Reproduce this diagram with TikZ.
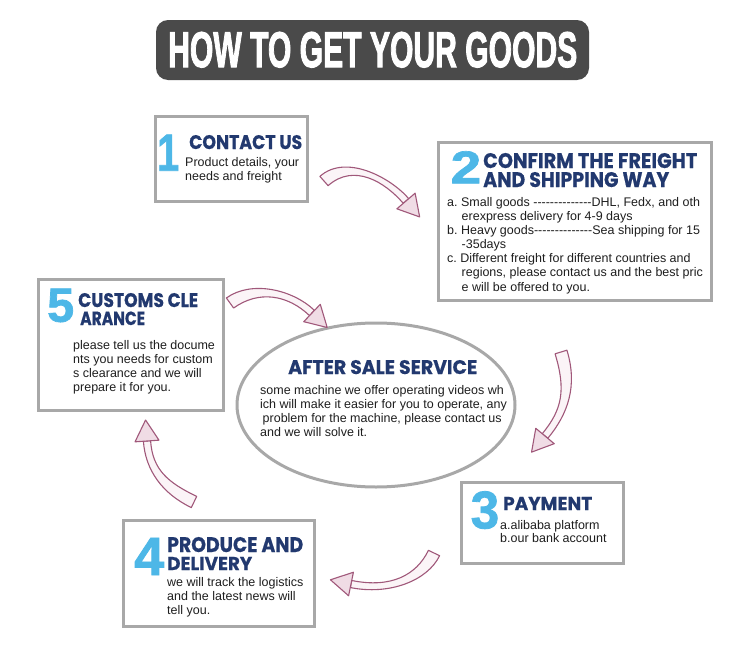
\documentclass[tikz,border=0pt]{standalone}
\usepackage{fontspec}
\usepackage{graphicx}
\usetikzlibrary{shapes.geometric,calc}
\newfontfamily\bodyfont{Liberation Sans}
\newfontfamily\titlefont{Liberation Sans}[BoldFeatures={FakeBold=2.5}]
\newfontfamily\numfont{Liberation Sans}[BoldFeatures={FakeBold=1.5}]
\newfontfamily\headfont{Poppins}[BoldFeatures={FakeBold=0.6}]
\definecolor{boxgray}{HTML}{A8A8A8}
\definecolor{bannergray}{HTML}{4A4A4A}
\definecolor{numblue}{HTML}{4DB7E7}
\definecolor{headnavy}{HTML}{22396F}
\definecolor{bodyc}{HTML}{1E1E1E}
\definecolor{arrowc}{HTML}{A0587A}
\definecolor{arrowfill}{HTML}{FBF4F7}
\definecolor{headfill}{HTML}{F0DCE5}
\newcommand{\hh}{-\kern0pt}
\newcommand{\dashrun}{\hh\hh\hh\hh\hh\hh\hh\hh\hh\hh\hh\hh\hh\hh}
% tapered curved block arrow: uses coordinates #1s, #1c1, #1c2, #1e
\newcommand{\swoosh}[1]{%
  \coordinate (#1sL) at ($(#1s)!6.2pt!90:(#1c1)$);
  \coordinate (#1sR) at ($(#1s)!6.2pt!-90:(#1c1)$);
  \coordinate (#1eL) at ($(#1e)!3.6pt!-90:(#1c2)$);
  \coordinate (#1eR) at ($(#1e)!3.6pt!90:(#1c2)$);
  \coordinate (#1c1L) at ($(#1c1)+(#1sL)-(#1s)$);
  \coordinate (#1c1R) at ($(#1c1)+(#1sR)-(#1s)$);
  \coordinate (#1c2L) at ($(#1c2)+(#1eL)-(#1e)$);
  \coordinate (#1c2R) at ($(#1c2)+(#1eR)-(#1e)$);
  \draw[arrowc, fill=arrowfill, line width=1.1pt, line join=round]
    (#1sL) .. controls (#1c1L) and (#1c2L) .. (#1eL) -- (#1eR)
    .. controls (#1c2R) and (#1c1R) .. (#1sR) -- cycle;
  \draw[arrowc, fill=headfill, line width=1.1pt, line join=round]
    ($(#1e)!12pt!90:(#1c2)$) -- ($(#1e)!-21pt!(#1c2)$) -- ($(#1e)!12pt!-90:(#1c2)$) -- cycle;
}
\begin{document}
\begin{tikzpicture}[x=1pt,y=-1pt,
  stepbox/.style={draw=boxgray, line width=3pt, fill=white, rectangle, inner sep=0pt},
  headtext/.style={anchor=base west, inner sep=0pt, text=headnavy},
  numtext/.style={anchor=base west, inner sep=0pt, text=numblue},
  bodytext/.style={anchor=base west, inner sep=0pt, text=bodyc},
  banner/.style={fill=bannergray, rounded corners=12pt, inner sep=0pt}]
\useasboundingbox (0,0) rectangle (750,645);

% title banner
\node[banner, minimum width=433pt, minimum height=60pt] (banner) at (372.5,50) {};
\node[anchor=base west, inner sep=0pt, text=white] (title) at (168,67)
  {\resizebox{409pt}{35pt}{\titlefont\bfseries HOW TO GET YOUR GOODS}};

% boxes
\node[stepbox, minimum width=151.5pt, minimum height=84.5pt] (box1) at (231.25,158.75) {};
\node[stepbox, minimum width=273pt, minimum height=158pt] (box2) at (575,221.5) {};
\node[stepbox, minimum width=184.5pt, minimum height=131.5pt] (box5) at (130.75,344.75) {};
\node[stepbox, minimum width=162pt, minimum height=81pt] (box3) at (542.5,523) {};
\node[stepbox, minimum width=191pt, minimum height=105.5pt] (box4) at (219,573.25) {};
\node[draw=boxgray, line width=3pt, fill=white, ellipse, minimum width=278pt, minimum height=164pt, inner sep=0pt] (center) at (376,405) {};

% box 1
\node[numtext] (n1) at (157,170.7) {\resizebox{22pt}{36pt}{\numfont\bfseries 1}};
\node[headtext] (h1) at (189,149) {\resizebox{113pt}{14pt}{\headfont\bfseries CONTACT US}};
\node[bodytext] (t1) at (185,166.7) {\vtop{\bodyfont\frenchspacing\fontsize{12.5pt}{14pt}\selectfont
  \hbox{Product details, your}\hbox{needs and freight}}};

% box 2
\node[numtext] (n2) at (450.5,183.3) {\resizebox{30.5pt}{32pt}{\numfont\bfseries 2}};
\node[headtext] (h2a) at (483,168) {\resizebox{214pt}{15pt}{\headfont\bfseries CONFIRM THE FREIGHT}};
\node[headtext] (h2b) at (483,187) {\resizebox{186pt}{15pt}{\headfont\bfseries AND SHIPPING WAY}};
\node[bodytext] (t2) at (447,206) {\vtop{\bodyfont\frenchspacing\fontsize{12.5pt}{14.17pt}\selectfont
  \hbox{a. Small goods \dashrun DHL, Fedx, and oth}
  \hbox{\hspace{14.5pt}erexpress delivery for 4-9 days}
  \hbox{b. Heavy goods\dashrun Sea shipping for 15}
  \hbox{\hspace{14.5pt}-35days}
  \hbox{c. Different freight for different countries and}
  \hbox{\hspace{14.5pt}regions, please contact us and the best pric}
  \hbox{\hspace{14.5pt}e will be offered to you.}}};

% box 5
\node[numtext] (n5) at (47,321.7) {\resizebox{27pt}{33pt}{\numfont\bfseries 5}};
\node[headtext] (h5a) at (78,307) {\resizebox{120pt}{14pt}{\headfont\bfseries CUSTOMS CLE}};
\node[headtext] (h5b) at (80,325) {\resizebox{65pt}{13.5pt}{\headfont\bfseries ARANCE}};
\node[bodytext] (t5) at (73,349) {\vtop{\bodyfont\frenchspacing\fontsize{12.5pt}{14.1pt}\selectfont
  \hbox{please tell us the docume}\hbox{nts you needs for custom}
  \hbox{s clearance and we will}\hbox{prepare it for you.}}};

% center
\node[headtext] (hc) at (288,374) {\resizebox{189pt}{14pt}{\headfont\bfseries AFTER SALE SERVICE}};
\node[bodytext] (tc) at (260,394) {\vtop{\bodyfont\frenchspacing\fontsize{12.5pt}{14.2pt}\selectfont
  \hbox{some machine we offer operating videos wh}
  \hbox{ich will make it easier for you to operate, any}
  \hbox{\hspace{2.5pt}problem for the machine, please contact us}
  \hbox{and we will solve it.}}};

% box 3
\node[numtext] (n3) at (470.5,528.3) {\resizebox{28.5pt}{37pt}{\numfont\bfseries 3}};
\node[headtext] (h3) at (503,510) {\resizebox{89pt}{13pt}{\headfont\bfseries PAYMENT}};
\node[bodytext] (t3) at (500,529) {\vtop{\bodyfont\frenchspacing\fontsize{12.5pt}{13.8pt}\selectfont
  \hbox{a.alibaba platform}\hbox{b.our bank account}}};

% box 4
\node[numtext] (n4) at (134,575) {\resizebox{30pt}{37pt}{\numfont\bfseries 4}};
\node[headtext] (h4a) at (167,552) {\resizebox{136pt}{15pt}{\headfont\bfseries PRODUCE AND}};
\node[headtext] (h4b) at (167,570) {\resizebox{85pt}{13pt}{\headfont\bfseries DELIVERY}};
\node[bodytext] (t4) at (167,586) {\vtop{\bodyfont\frenchspacing\fontsize{12.5pt}{14pt}\selectfont
  \hbox{we will track the logistics}\hbox{and the latest news will}\hbox{tell you.}}};

% arrows
\coordinate (a1s) at (324,181); \coordinate (a1c1) at (350,158); \coordinate (a1c2) at (388,180); \coordinate (a1e) at (406,201);
\coordinate (a2s) at (561,352); \coordinate (a2c1) at (572,388); \coordinate (a2c2) at (565,412); \coordinate (a2e) at (545,436);
\coordinate (a3s) at (434,553); \coordinate (a3c1) at (422,578); \coordinate (a3c2) at (390,592); \coordinate (a3e) at (351,584);
\coordinate (a4s) at (194,502); \coordinate (a4c1) at (165,488); \coordinate (a4c2) at (149,470); \coordinate (a4e) at (147,441);
\coordinate (a5s) at (230,303); \coordinate (a5c1) at (255,285); \coordinate (a5c2) at (290,292); \coordinate (a5e) at (312,313);
\swoosh{a1}
\swoosh{a2}
\swoosh{a3}
\swoosh{a4}
\swoosh{a5}
\end{tikzpicture}
\end{document}
